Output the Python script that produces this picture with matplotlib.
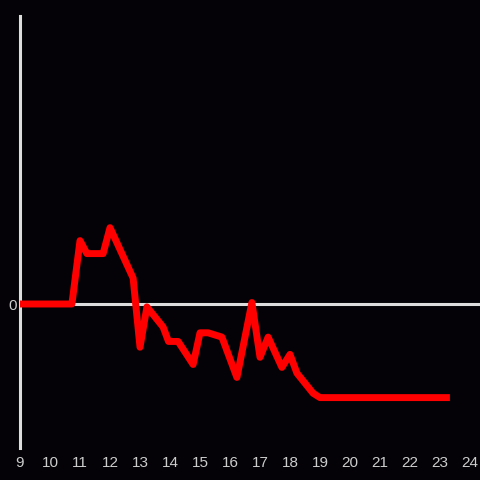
import matplotlib
matplotlib.use("Agg")
import matplotlib.pyplot as plt

plt.rcParams["font.family"] = ["Liberation Sans", "DejaVu Sans"]

# time of day (hours) and value
hours = [9.0, 10.73, 11.0, 11.23, 11.77, 12.0, 12.77, 13.0, 13.23, 13.77, 13.95,
         14.27, 14.77, 15.0, 15.27, 15.73, 16.23, 16.73, 17.0, 17.27, 17.73,
         18.0, 18.23, 18.77, 19.0, 23.33]
values = [0.0, 0.0, 0.44, 0.35, 0.35, 0.53, 0.18, -0.30, -0.02, -0.16, -0.26,
          -0.26, -0.42, -0.20, -0.20, -0.23, -0.51, 0.01, -0.37, -0.23, -0.44,
          -0.35, -0.48, -0.62, -0.65, -0.65]
xticks = list(range(9, 25))

bg = "#040206"
grey = "#dddddd"

fig = plt.figure(figsize=(4.8, 4.8), dpi=100, facecolor=bg)
ax = fig.add_axes([20 / 480, 32 / 480, 460 / 480, 432 / 480], facecolor=bg)

ax.axhline(0, color=grey, lw=2.2, zorder=1)
ax.plot(hours, values, color="#ff0000", lw=5, zorder=3, solid_capstyle="butt")

ax.set_xlim(9, 9 + 460 / 30)
ax.set_ylim(-1, 2)
ax.set_xticks(xticks)
ax.set_xticklabels([str(t) for t in xticks])
ax.set_yticks([0])
ax.set_yticklabels(["0"])
ax.tick_params(length=0, colors="#cccccc", labelsize=11)
ax.tick_params(axis="x", pad=6)
ax.tick_params(axis="y", pad=2)

for side in ["top", "right", "bottom"]:
    ax.spines[side].set_visible(False)
ax.spines["left"].set_color(grey)
ax.spines["left"].set_linewidth(2.2)

fig.savefig("out.png", dpi=100, facecolor=bg)
